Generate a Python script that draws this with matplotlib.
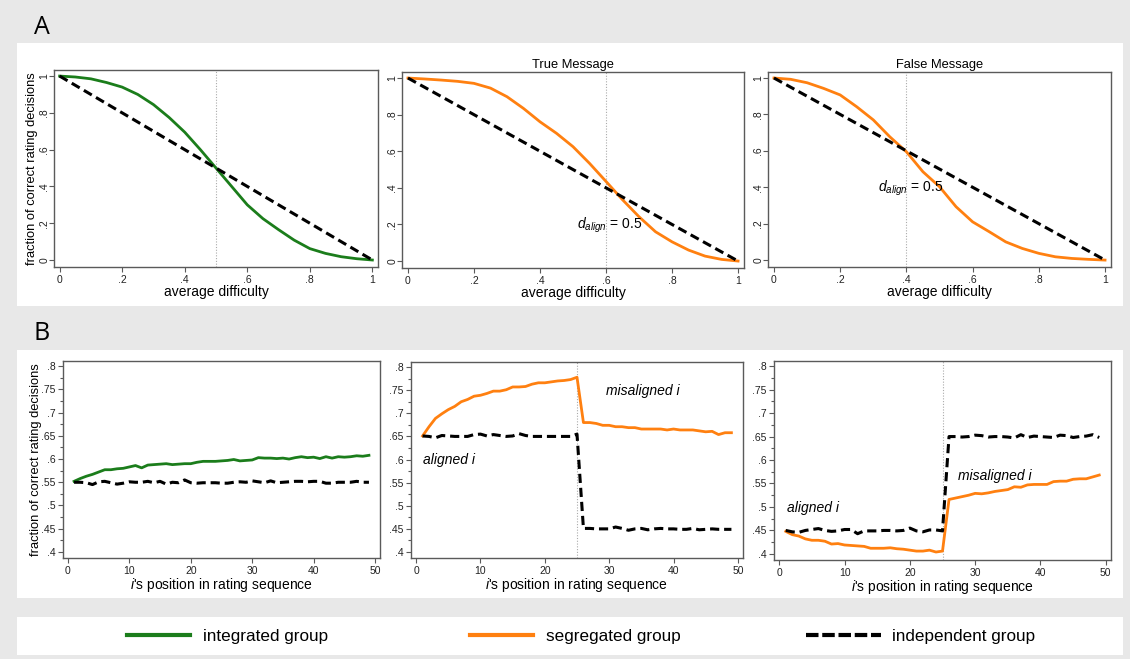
import numpy as np
import matplotlib
matplotlib.use("Agg")
import matplotlib.pyplot as plt
from matplotlib.patches import Rectangle
from matplotlib.lines import Line2D
from matplotlib.ticker import MultipleLocator

plt.rcParams['font.family'] = ['Liberation Sans', 'DejaVu Sans']
plt.rcParams['mathtext.fontset'] = 'custom'
plt.rcParams['mathtext.it'] = 'Liberation Sans:italic'
plt.rcParams['mathtext.rm'] = 'Liberation Sans'

# ---------------- data ----------------
diff_x = [0, .05, .1, .15, .2, .25, .3, .35, .4, .45, .5, .55, .6, .65, .7, .75, .8, .85, .9, .95, 1.0]
integrated_A = [1.0, 0.995, 0.985, 0.965, 0.94, 0.90, 0.845, 0.775, 0.695, 0.60, 0.50,
                0.40, 0.30, 0.225, 0.165, 0.108, 0.062, 0.036, 0.018, 0.007, 0.0]
seg_true_A = [1.0, 0.995, 0.989, 0.982, 0.971, 0.945, 0.898, 0.834, 0.761, 0.698, 0.625,
              0.534, 0.435, 0.335, 0.242, 0.16, 0.105, 0.06, 0.027, 0.009, 0.0]
seg_false_A = [1.0, 0.993, 0.974, 0.943, 0.907, 0.842, 0.77, 0.677, 0.595, 0.485, 0.403,
               0.293, 0.21, 0.156, 0.10, 0.064, 0.037, 0.018, 0.009, 0.004, 0.0]
indep_A_x = [0, 1]
indep_A_y = [1, 0]
align_point = [0.5, 0.6, 0.4]

pos = list(range(1, 50))
integrated_B = [0.552, 0.558, 0.563, 0.567, 0.572, 0.577, 0.577, 0.579, 0.580, 0.583,
                0.586, 0.581, 0.587, 0.588, 0.589, 0.590, 0.588, 0.589, 0.590, 0.590,
                0.593, 0.595, 0.595, 0.595, 0.596, 0.597, 0.599, 0.596, 0.597, 0.598,
                0.603, 0.602, 0.602, 0.601, 0.602, 0.600, 0.603, 0.605, 0.603, 0.604,
                0.601, 0.605, 0.602, 0.605, 0.604, 0.605, 0.607, 0.606, 0.608]
indep_B1 = [0.550, 0.550, 0.549, 0.545, 0.551, 0.552, 0.549, 0.546, 0.548, 0.551,
            0.550, 0.550, 0.552, 0.549, 0.552, 0.546, 0.550, 0.549, 0.555, 0.549,
            0.548, 0.549, 0.549, 0.549, 0.548, 0.548, 0.550, 0.551, 0.550, 0.553,
            0.551, 0.549, 0.553, 0.549, 0.550, 0.551, 0.552, 0.552, 0.551, 0.552,
            0.552, 0.548, 0.548, 0.550, 0.550, 0.550, 0.552, 0.550, 0.550]
seg_true_B = [0.651, 0.671, 0.689, 0.699, 0.708, 0.715, 0.725, 0.730, 0.737, 0.739,
              0.743, 0.748, 0.748, 0.751, 0.757, 0.757, 0.758, 0.763, 0.766, 0.766,
              0.768, 0.770, 0.771, 0.773, 0.778, 0.680, 0.680, 0.678, 0.674, 0.674,
              0.671, 0.671, 0.669, 0.669, 0.666, 0.666, 0.666, 0.666, 0.664, 0.666,
              0.664, 0.664, 0.664, 0.662, 0.660, 0.661, 0.654, 0.658, 0.658]
indep_B2 = [0.651, 0.650, 0.647, 0.652, 0.651, 0.650, 0.650, 0.650, 0.654, 0.655,
            0.651, 0.654, 0.652, 0.650, 0.651, 0.656, 0.652, 0.650, 0.650, 0.650,
            0.650, 0.650, 0.650, 0.650, 0.655, 0.451, 0.451, 0.450, 0.450, 0.450,
            0.454, 0.451, 0.447, 0.450, 0.451, 0.448, 0.450, 0.451, 0.450, 0.450,
            0.449, 0.449, 0.451, 0.448, 0.449, 0.450, 0.449, 0.449, 0.449]
seg_false_B = [0.448, 0.441, 0.438, 0.432, 0.429, 0.429, 0.427, 0.421, 0.422, 0.419,
               0.418, 0.417, 0.416, 0.412, 0.412, 0.412, 0.413, 0.411, 0.410, 0.408,
               0.406, 0.406, 0.408, 0.404, 0.406, 0.516, 0.519, 0.522, 0.525, 0.529,
               0.528, 0.530, 0.533, 0.535, 0.537, 0.543, 0.542, 0.547, 0.548, 0.548,
               0.548, 0.554, 0.555, 0.555, 0.559, 0.560, 0.560, 0.564, 0.568]
indep_B3 = [0.450, 0.447, 0.446, 0.450, 0.452, 0.454, 0.450, 0.448, 0.449, 0.452,
            0.452, 0.443, 0.449, 0.449, 0.449, 0.450, 0.450, 0.449, 0.450, 0.455,
            0.449, 0.447, 0.451, 0.451, 0.449, 0.650, 0.650, 0.649, 0.650, 0.653,
            0.652, 0.649, 0.650, 0.650, 0.649, 0.647, 0.654, 0.648, 0.651, 0.650,
            0.649, 0.648, 0.653, 0.652, 0.648, 0.650, 0.651, 0.654, 0.648]
switch_pos = 25

A_xticks = [0, .2, .4, .6, .8, 1]
A_xticklabels = ['0', '.2', '.4', '.6', '.8', '1']
A_yticks = [0, .2, .4, .6, .8, 1]
A_yticklabels = ['0', '.2', '.4', '.6', '.8', '1']
B_xticks = [0, 10, 20, 30, 40, 50]
B_yticks = [.4, .45, .5, .55, .6, .65, .7, .75, .8]
B_yticklabels = ['.4', '.45', '.5', '.55', '.6', '.65', '.7', '.75', '.8']

GREEN = '#1b7d1b'
ORANGE = '#ff8010'
FRAME = '#5a5a5a'

# ---------------- figure ----------------
W, H = 1130, 659
fig = plt.figure(figsize=(W / 100, H / 100), dpi=100, facecolor='#e8e8e8')

def px_rect(x0, y0, x1, y1):
    return [x0 / W, 1 - y1 / H, (x1 - x0) / W, (y1 - y0) / H]

for (x0, y0, x1, y1) in [(17, 43, 1123, 306), (17, 350, 1123, 598), (17, 617, 1123, 655)]:
    r = px_rect(x0, y0, x1, y1)
    fig.patches.append(Rectangle((r[0], r[1]), r[2], r[3], transform=fig.transFigure,
                                 facecolor='white', edgecolor='none', zorder=-10))

fig.text(42 / W, 1 - 27 / H, 'A', fontsize=18, family='Open Sans', ha='center', va='center')
fig.text(42 / W, 1 - 334 / H, 'B', fontsize=18, family='Open Sans', ha='center', va='center')

def style(ax):
    for s in ax.spines.values():
        s.set_color(FRAME)
        s.set_linewidth(1.0)
    ax.tick_params(axis='both', which='both', direction='out', color=FRAME,
                   labelsize=7.5, labelcolor='#222222', width=0.8, pad=2)
    ax.tick_params(axis='both', which='major', length=3.5)
    ax.tick_params(axis='y', which='minor', length=2.5)

dash_kw = dict(color='black', lw=2.2, dashes=(3, 1.6), zorder=3)
lab_fs = 10

# ---- panel A ----
A_axes = [px_rect(54, 70, 378, 267), px_rect(402, 72, 744, 268), px_rect(768, 72, 1111, 267)]
A_series = [(integrated_A, GREEN), (seg_true_A, ORANGE), (seg_false_A, ORANGE)]
A_titles = ['', 'True Message', 'False Message']
for i, (rect, (ys, col), title) in enumerate(zip(A_axes, A_series, A_titles)):
    ax = fig.add_axes(rect)
    style(ax)
    ax.tick_params(axis='y', pad=0)
    ax.axvline(align_point[i], color='#aaaaaa', lw=0.8, ls=(0, (1, 1.5)), zorder=1)
    ax.plot(diff_x, ys, color=col, lw=2.0, zorder=2)
    ax.plot(indep_A_x, indep_A_y, **dash_kw)
    ax.set_xlim(-0.018, 1.018)
    ax.set_ylim(-0.038, 1.033)
    ax.set_xticks(A_xticks)
    ax.set_xticklabels(A_xticklabels)
    ax.set_yticks(A_yticks)
    ax.set_yticklabels(A_yticklabels, rotation=90, va='center')
    ax.set_xlabel('average difficulty', fontsize=lab_fs, labelpad=0)
    if title:
        ax.set_title(title, fontsize=9.3, pad=3)
    if i == 0:
        ax.set_ylabel('fraction of correct rating decisions', fontsize=9.3)
        ax.yaxis.set_label_coords(-0.05, 0.5)
    if i == 1:
        ax.text(0.512, 0.197, r'$d_{align}$ = 0.5', fontsize=10, va='center', ha='left')
    if i == 2:
        ax.text(0.313, 0.396, r'$d_{align}$ = 0.5', fontsize=10, va='center', ha='left')

# ---- panel B ----
B_axes = [px_rect(63, 361, 380, 558), px_rect(411, 362, 743, 558), px_rect(774, 361, 1111, 560)]
B_series = [(integrated_B, indep_B1, GREEN), (seg_true_B, indep_B2, ORANGE),
            (seg_false_B, indep_B3, ORANGE)]
for i, (rect, (ys, ind, col)) in enumerate(zip(B_axes, B_series)):
    ax = fig.add_axes(rect)
    style(ax)
    if i > 0:
        ax.axvline(switch_pos, color='#aaaaaa', lw=0.8, ls=(0, (1, 1.5)), zorder=1)
    ax.plot(pos, ys, color=col, lw=2.0, zorder=2)
    ax.plot(pos, ind, **dash_kw)
    ax.set_xlim(-0.8, 50.8)
    ax.set_ylim(0.387, 0.811)
    ax.set_xticks(B_xticks)
    ax.set_yticks(B_yticks)
    ax.set_yticklabels(B_yticklabels)
    ax.yaxis.set_minor_locator(MultipleLocator(0.025))
    ax.set_xlabel(r"$\mathit{i}$'s position in rating sequence", fontsize=lab_fs, labelpad=0)
    if i == 0:
        ax.set_ylabel('fraction of correct rating decisions', fontsize=9.3)
        ax.yaxis.set_label_coords(-0.066, 0.5)
    if i == 1:
        ax.text(29.5, 0.748, 'misaligned i', style='italic', fontsize=10, va='center')
        ax.text(1.1, 0.599, 'aligned i', style='italic', fontsize=10, va='center')
    if i == 2:
        ax.text(1.2, 0.498, 'aligned i', style='italic', fontsize=10, va='center')
        ax.text(27.3, 0.567, 'misaligned i', style='italic', fontsize=10, va='center')

# ---- legend ----
LEG_FS = 12.3
entries = [(Line2D([], [], color=GREEN, lw=3.0), 'integrated group', 127, 3.7, 0.76),
           (Line2D([], [], color=ORANGE, lw=3.0), 'segregated group', 470, 3.7, 0.76),
           (Line2D([], [], color='black', lw=3.0, dashes=(3, 0.9)), 'independent group', 806, 4.4, 0.65)]
for h, lab, xpx, hl, tp in entries:
    fig.legend([h], [lab], loc='center left', bbox_to_anchor=(xpx / W, 1 - 636 / H),
               frameon=False, fontsize=LEG_FS, handlelength=hl, handletextpad=tp,
               borderpad=0, borderaxespad=0)

fig.savefig('out.png', dpi=100, facecolor=fig.get_facecolor())
